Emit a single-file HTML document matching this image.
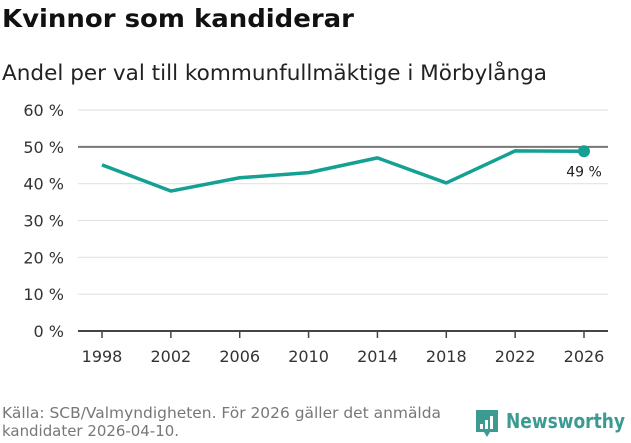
<!DOCTYPE html>
<html><head><meta charset="utf-8"><style>
body{margin:0;width:631px;height:439px;background:#fff;font-family:"DejaVu Sans","Liberation Sans",sans-serif;overflow:hidden}
</style></head><body>
<svg width="631" height="439">
<text x="2" y="27" font-size="25" font-weight="bold" fill="#111" textLength="352" lengthAdjust="spacingAndGlyphs">Kvinnor som kandiderar</text>
<text x="2" y="80" font-size="21" fill="#222" textLength="545" lengthAdjust="spacingAndGlyphs">Andel per val till kommunfullmäktige i Mörbylånga</text>
<g id="grid"></g><g id="xax"></g>
<polyline id="line" fill="none" stroke="#14a093" stroke-width="3.5" stroke-linejoin="round"/>
<g id="pts"></g>
<text x="2" y="418" font-size="15" fill="#777" textLength="439" lengthAdjust="spacingAndGlyphs">Källa: SCB/Valmyndigheten. För 2026 gäller det anmälda</text>
<text x="2" y="436" font-size="15" fill="#777" textLength="177" lengthAdjust="spacingAndGlyphs">kandidater 2026-04-10.</text>
<g>
<path d="M476,410 h22 v22 h-8 l-3,5 l-3,-5 h-8 z" fill="#3b9a92"/>
<rect x="480" y="424" width="3" height="5" fill="#fff"/><rect x="485" y="420" width="3" height="9" fill="#fff"/><rect x="490" y="416" width="3" height="13" fill="#fff"/>
<text x="506" y="428" font-size="20" font-weight="bold" fill="#3b9a92" textLength="119" lengthAdjust="spacingAndGlyphs">Newsworthy</text>
</g>
</svg>
<script>
const years=["1998","2002","2006","2010","2014","2018","2022","2026"];
const values=[45.1,38,41.6,43,47,40.2,48.9,48.8];
const yTicks=[0,10,20,30,40,50,60];
const NS="http://www.w3.org/2000/svg";
const x=i=>102+i*(584-102)/(years.length-1);
const y=v=>331-v*(331-110)/60;
function mk(t,a,p){const e=document.createElementNS(NS,t);for(const k in a)e.setAttribute(k,a[k]);p.appendChild(e);return e;}
const g=document.getElementById('grid');
yTicks.forEach(v=>{
 const l=mk('line',{x1:78,x2:608,y1:y(v),y2:y(v),stroke:v==0?'#444':v==50?'#777':'#e3e3e3','stroke-width':v==0||v==50?2:1.2},g);
 
 
 const t=mk('text',{x:64,y:y(v)+6,'text-anchor':'end','font-size':16,fill:'#333'},g);t.textContent=v+' %';
 
 
});
const xa=document.getElementById('xax');
years.forEach((yr,i)=>{
 const tk=mk('line',{x1:x(i),x2:x(i),y1:331,y2:338,stroke:'#444','stroke-width':1.5},xa);
 
 
 const t=mk('text',{x:x(i),y:362,'text-anchor':'middle','font-size':16,fill:'#333'},xa);t.textContent=yr;
 
 
});
document.getElementById('line').setAttribute('points',values.map((v,i)=>x(i)+','+y(v)).join(' '));
const n=values.length-1,p=document.getElementById('pts');
const c=mk('circle',{cx:x(n),cy:y(values[n]),r:6,fill:'#14a093'},p);


const lb=mk('text',{x:x(n),y:y(values[n])+25,'text-anchor':'middle','font-size':14,fill:'#222'},p);
lb.textContent=Math.round(values[n])+' %';


</script>
</body></html>
